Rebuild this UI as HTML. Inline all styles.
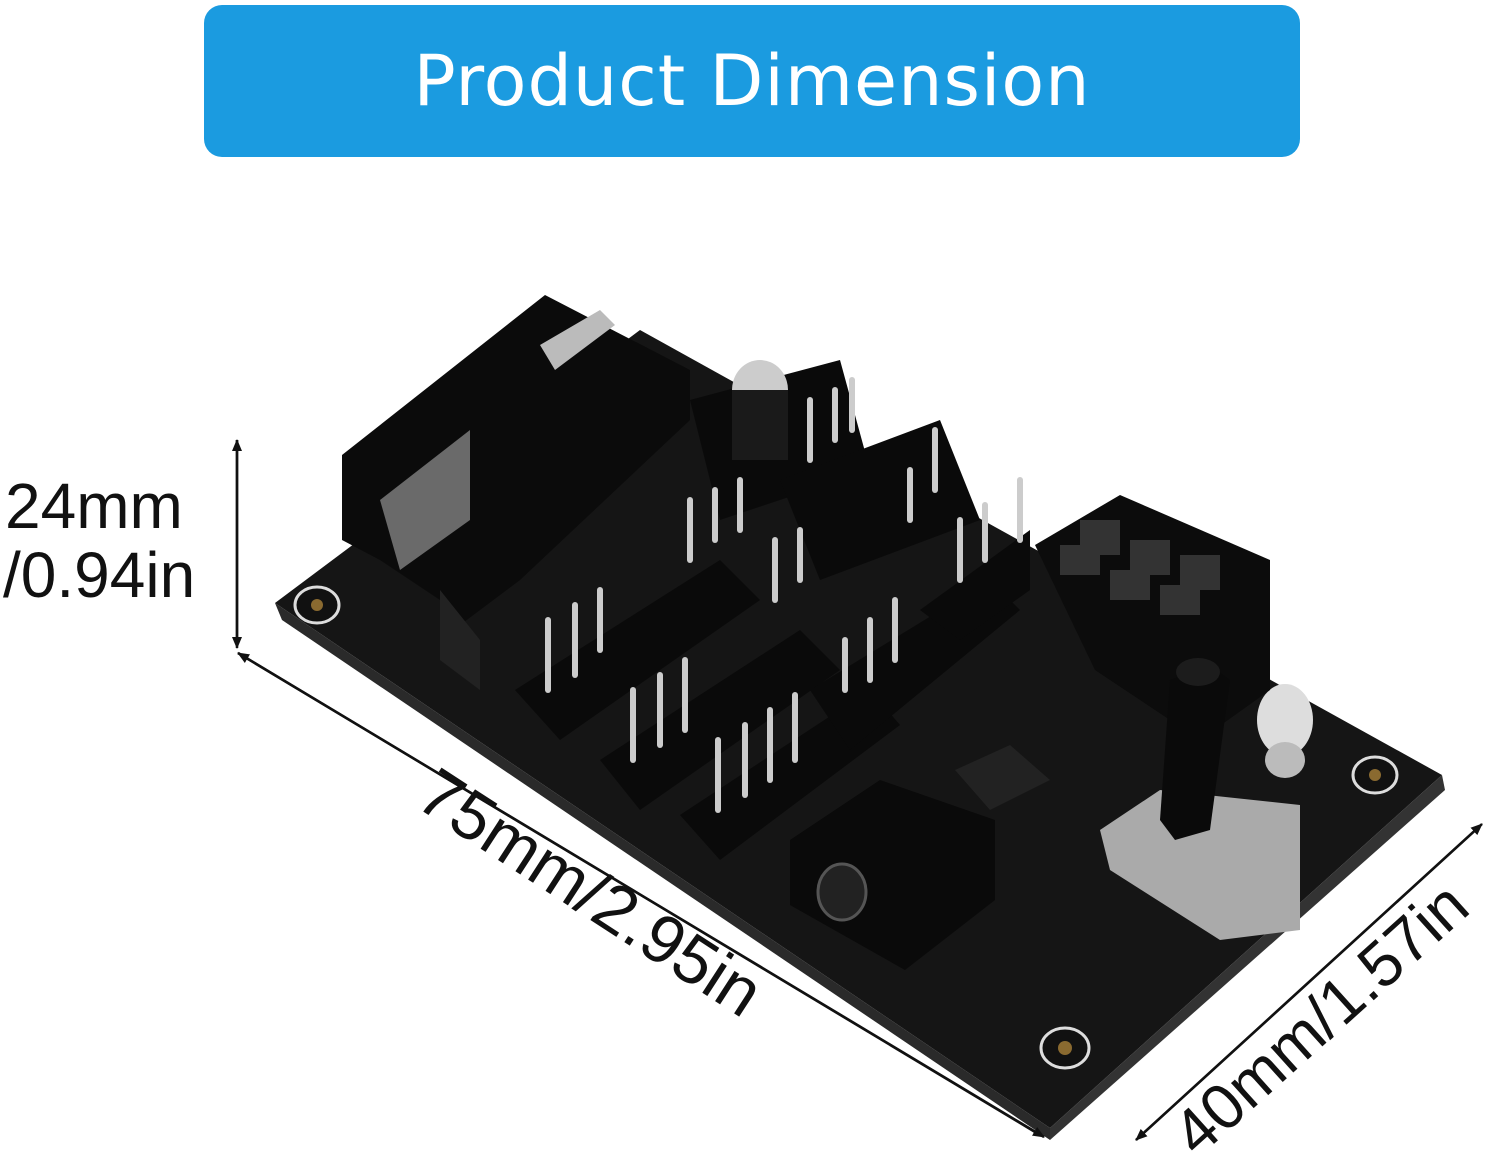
<!DOCTYPE html>
<html><head><style>
html,body{margin:0;padding:0;background:#fff;}
body{width:1500px;height:1172px;position:relative;overflow:hidden;font-family:"Liberation Sans",sans-serif;}
.banner{position:absolute;left:204px;top:5px;width:1096px;height:152px;background:#1b9be0;border-radius:18px;color:#fff;font-size:70px;text-align:center;line-height:152px;font-family:"DejaVu Sans","Liberation Sans",sans-serif;letter-spacing:1px;}
</style></head><body>
<div class="banner">Product Dimension</div>
<svg width="1500" height="1172" style="position:absolute;left:0;top:0" xmlns="http://www.w3.org/2000/svg">
<polygon points="275,603 640,330 1442,775 1050,1128" fill="#151515"/>
<polygon points="275,603 1050,1128 1050,1140 282,620" fill="#2a2a2a"/>
<polygon points="1050,1128 1442,775 1445,790 1050,1140" fill="#333"/>
<g fill="#111" stroke="#ddd" stroke-width="3">
<ellipse cx="317" cy="605" rx="22" ry="18"/><ellipse cx="1375" cy="775" rx="22" ry="18"/><ellipse cx="1065" cy="1048" rx="24" ry="20"/>
</g>
<g fill="#8a6a30"><circle cx="317" cy="605" r="6"/><circle cx="1375" cy="775" r="6"/><circle cx="1065" cy="1048" r="7"/></g>
<polygon points="342,455 545,295 690,370 690,420 520,580 440,640 440,600 380,560 342,540" fill="#0b0b0b"/>
<polygon points="380,500 470,430 470,520 400,570" fill="#aaa" opacity="0.6"/>
<polygon points="540,345 600,310 615,325 555,370" fill="#bbb"/>
<polygon points="440,590 480,640 480,690 440,660" fill="#222"/>
<g fill="#0a0a0a">
<polygon points="515,690 720,560 760,600 560,740"/>
<polygon points="600,760 800,630 840,670 640,810"/>
<polygon points="680,815 870,690 900,725 720,860"/>
<polygon points="810,690 990,580 1020,610 850,750"/>
<polygon points="920,610 1030,530 1030,590 960,640"/>
<polygon points="690,400 840,360 870,470 720,520"/>
<polygon points="780,480 940,420 980,520 820,580"/>
</g>
<g stroke="#ccc" stroke-width="6" stroke-linecap="round">
<line x1="548" y1="620" x2="548" y2="690"/><line x1="575" y1="605" x2="575" y2="675"/><line x1="600" y1="590" x2="600" y2="650"/>
<line x1="633" y1="690" x2="633" y2="760"/><line x1="660" y1="675" x2="660" y2="745"/><line x1="685" y1="660" x2="685" y2="730"/>
<line x1="718" y1="740" x2="718" y2="810"/><line x1="745" y1="725" x2="745" y2="795"/><line x1="770" y1="710" x2="770" y2="780"/><line x1="795" y1="695" x2="795" y2="760"/>
<line x1="845" y1="640" x2="845" y2="690"/><line x1="870" y1="620" x2="870" y2="680"/><line x1="895" y1="600" x2="895" y2="660"/>
<line x1="960" y1="520" x2="960" y2="580"/><line x1="985" y1="505" x2="985" y2="560"/><line x1="1020" y1="480" x2="1020" y2="540"/>
<line x1="810" y1="400" x2="810" y2="460"/><line x1="835" y1="390" x2="835" y2="440"/><line x1="852" y1="380" x2="852" y2="430"/>
<line x1="910" y1="470" x2="910" y2="520"/><line x1="935" y1="430" x2="935" y2="490"/>
<line x1="690" y1="500" x2="690" y2="560"/><line x1="715" y1="490" x2="715" y2="540"/><line x1="740" y1="480" x2="740" y2="530"/>
<line x1="775" y1="540" x2="775" y2="600"/><line x1="800" y1="530" x2="800" y2="580"/>
</g>
<ellipse cx="760" cy="390" rx="28" ry="30" fill="#ccc"/><rect x="732" y="390" width="56" height="70" fill="#1a1a1a"/>
<ellipse cx="1285" cy="720" rx="28" ry="36" fill="#ddd"/><ellipse cx="1285" cy="760" rx="20" ry="18" fill="#bbb"/>
<polygon points="1035,545 1120,495 1270,560 1270,690 1200,740 1095,670" fill="#0c0c0c"/>
<g fill="#333"><rect x="1080" y="520" width="40" height="35"/><rect x="1130" y="540" width="40" height="35"/><rect x="1180" y="555" width="40" height="35"/><rect x="1060" y="545" width="40" height="30"/><rect x="1110" y="570" width="40" height="30"/><rect x="1160" y="585" width="40" height="30"/></g>
<polygon points="790,840 880,780 995,820 995,900 905,970 790,905" fill="#0a0a0a"/>
<ellipse cx="842" cy="892" rx="24" ry="28" fill="#222" stroke="#555" stroke-width="3"/>
<polygon points="955,770 1010,745 1050,780 990,810" fill="#222"/>
<polygon points="1100,830 1160,790 1300,805 1300,930 1220,940 1110,870" fill="#aaa"/>
<polygon points="1170,680 1210,665 1230,680 1210,830 1175,840 1160,820" fill="#0a0a0a"/>
<ellipse cx="1198" cy="672" rx="22" ry="14" fill="#1c1c1c"/>
</svg>
<svg width="1500" height="1172" style="position:absolute;left:0;top:0" xmlns="http://www.w3.org/2000/svg">
<defs><marker id="b" markerWidth="12" markerHeight="12" refX="11" refY="6" orient="auto" markerUnits="userSpaceOnUse"><path d="M0,1 L12,6 L0,11 z" fill="#111"/></marker></defs>
<g stroke="#111" stroke-width="2.5" fill="none">
<line x1="237" y1="640" x2="237" y2="440" marker-end="url(#b)"/>
<line x1="237" y1="440" x2="237" y2="648" marker-end="url(#b)"/>
<line x1="1040" y1="1135" x2="238" y2="653" marker-end="url(#b)"/>
<line x1="238" y1="653" x2="1044" y2="1137" marker-end="url(#b)"/>
<line x1="1480" y1="826" x2="1136" y2="1140" marker-end="url(#b)"/>
<line x1="1136" y1="1140" x2="1482" y2="824" marker-end="url(#b)"/>
</g>
<g font-family="Liberation Sans, sans-serif" fill="#111">
<text x="5" y="528" font-size="64">24mm</text>
<text x="3" y="597" font-size="64">/0.94in</text>
<text transform="translate(578,912) rotate(33)" text-anchor="middle" font-size="68">75mm/2.95in</text>
<text transform="translate(1335,1035) rotate(-42)" text-anchor="middle" font-size="64">40mm/1.57in</text>
</g>
</svg>
</body></html>
